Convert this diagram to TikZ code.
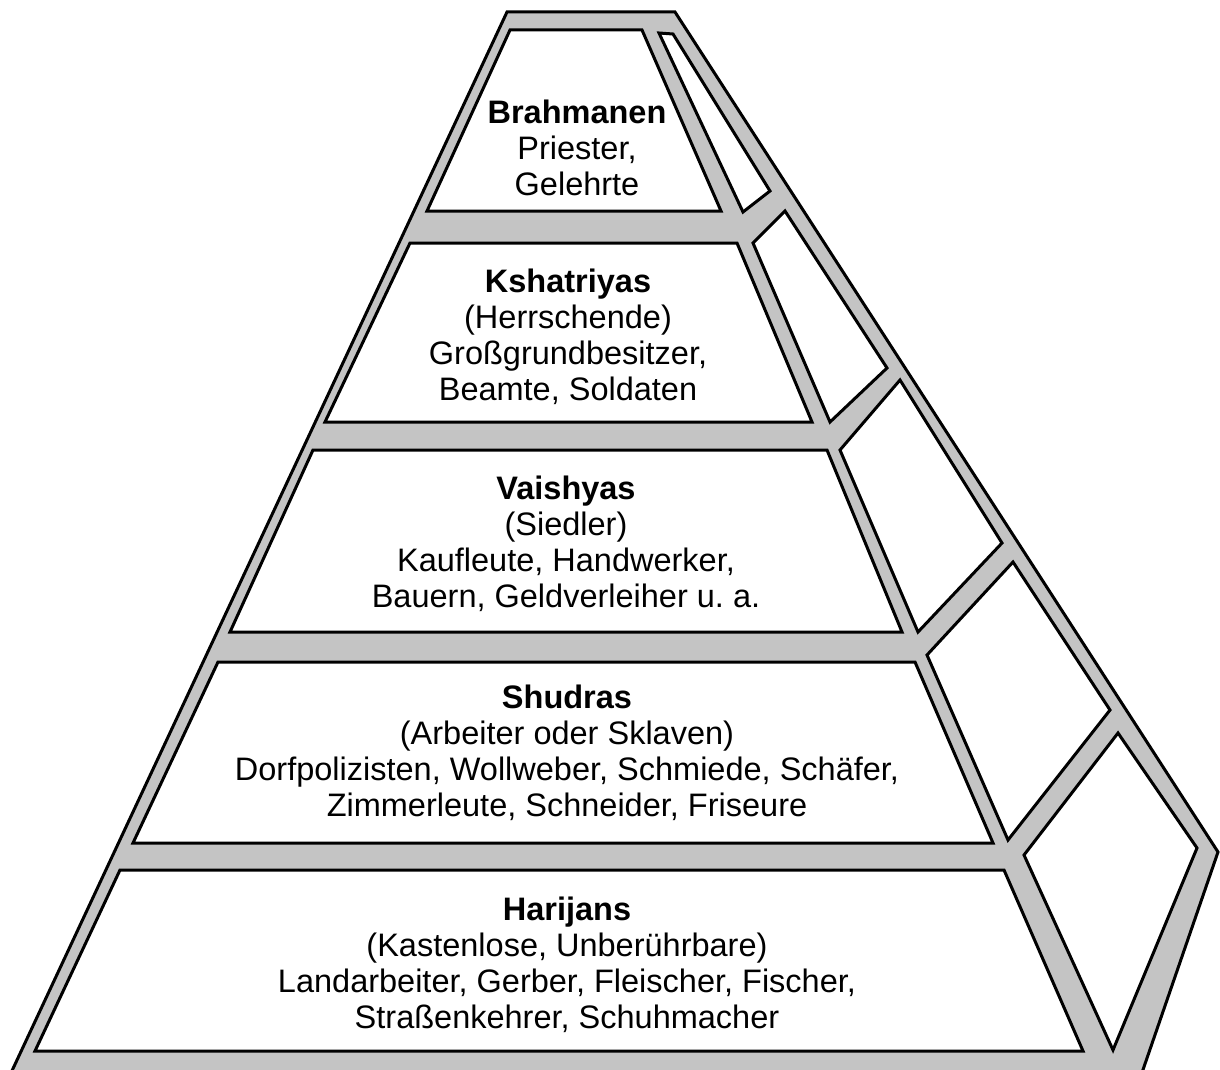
\documentclass[tikz,border=0pt]{standalone}
\usepackage{fontspec}
\setmainfont{Liberation Sans}
\definecolor{pgrey}{RGB}{196,196,196}
\tikzset{
  body/.style={fill=pgrey, draw=black, line width=3pt, line join=miter},
  face/.style={fill=white, draw=black, line width=3pt, line join=miter},
  label/.style={align=center, font=\fontsize{32.5}{36}\selectfont, inner sep=0pt}
}
\begin{document}
\begin{tikzpicture}[x=1pt,y=-1pt]
\useasboundingbox (0,0) rectangle (1220,1070);
\clip (0,0) rectangle (1220,1070);
% pyramid body
\draw[body] (507,12) -- (675,12) -- (1218,852) -- (1136,1090) -- (3,1090) -- cycle;
% front face levels
\draw[face] (510,30) -- (642,30) -- (721,211) -- (427,211) -- cycle;
\draw[face] (410,243) -- (737,243) -- (812,422) -- (325,422) -- cycle;
\draw[face] (313,450) -- (827,450) -- (902,632) -- (230,632) -- cycle;
\draw[face] (218,662) -- (915,662) -- (993,843) -- (133,843) -- cycle;
\draw[face] (120,870) -- (1004,870) -- (1083,1051) -- (35,1051) -- cycle;
% side face panels
\draw[face] (659,33) -- (673,34) -- (770,191) -- (743,212) -- cycle;
\draw[face] (753,243) -- (785,211) -- (887,368) -- (830,422) -- cycle;
\draw[face] (840,450) -- (900,380) -- (1002,543) -- (918,632) -- cycle;
\draw[face] (927,655) -- (1013,562) -- (1110,710) -- (1008,840) -- cycle;
\draw[face] (1024,855) -- (1118,733) -- (1197,848) -- (1113,1050) -- cycle;
% texts
\node[label] (brahmanen) at (577,148) {\textbf{Brahmanen}\\Priester,\\Gelehrte};
\node[label] (kshatriyas) at (568,337) {\textbf{Kshatriyas}\\(Herrschende)\\Großgrundbesitzer,\\Beamte, Soldaten};
\node[label] (vaishyas) at (566,544) {\textbf{Vaishyas}\\(Siedler)\\Kaufleute, Handwerker,\\Bauern, Geldverleiher u.\ a.};
\node[label] (shudras) at (567,753) {\textbf{Shudras}\\(Arbeiter oder Sklaven)\\Dorfpolizisten, Wollweber, Schmiede, Schäfer,\\Zimmerleute, Schneider, Friseure};
\node[label] (harijans) at (567,965) {\textbf{Harijans}\\(Kastenlose, Unberührbare)\\Landarbeiter, Gerber, Fleischer, Fischer,\\Straßenkehrer, Schuhmacher};
\end{tikzpicture}
\end{document}
